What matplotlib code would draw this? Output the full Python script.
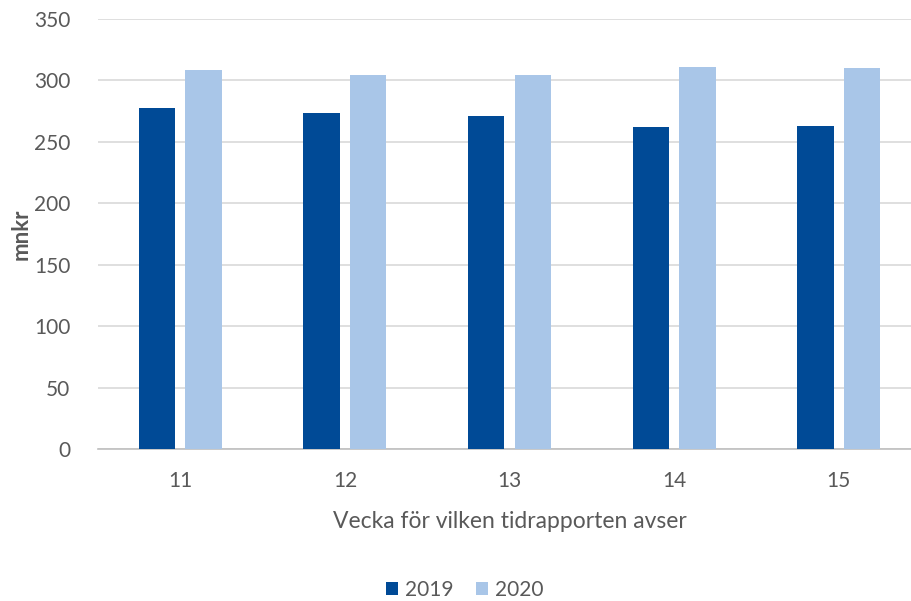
import matplotlib
matplotlib.use("Agg")
import matplotlib.pyplot as plt
import numpy as np

weeks = ["11", "12", "13", "14", "15"]
v2019 = [277.8, 273.4, 271.3, 262.0, 263.2]
v2020 = [308.7, 304.6, 304.6, 310.8, 309.8]

plt.rcParams['font.family'] = ['Lato', 'DejaVu Sans']
grey = '#595959'

fig = plt.figure(figsize=(9.12, 6.01), dpi=100)
ax = fig.add_axes([98 / 912, 152 / 601, 823 / 912, 430 / 601])

x = np.arange(len(weeks))
w = 0.222
gap = 0.061
ax.bar(x - (w + gap) / 2, v2019, w, color='#004A96', label='2019', zorder=3)
ax.bar(x + (w + gap) / 2, v2020, w, color='#A9C6E8', label='2020', zorder=3)

ax.set_xlim(-0.5, len(weeks) - 0.5)
ax.set_ylim(0, 350)
ax.set_yticks(range(0, 351, 50))
ax.set_xticks(x)
ax.set_xticklabels(weeks)
ax.yaxis.grid(True, color='#D9D9D9', linewidth=1.2, zorder=0)
ax.set_axisbelow(True)
for s in ['top', 'right', 'left']:
    ax.spines[s].set_visible(False)
ax.spines['bottom'].set_color('#BFBFBF')
ax.spines['bottom'].set_linewidth(1.2)
ax.tick_params(axis='both', length=0, labelsize=15, colors=grey)
ax.tick_params(axis='x', pad=16)
ax.tick_params(axis='y', pad=20)
ax.set_ylabel('mnkr', fontsize=16, color=grey, fontweight='bold')
ax.yaxis.set_label_coords(-66 / 823, 0.5)
ax.set_xlabel('Vecka för vilken tidrapporten avser', fontsize=16.5, color=grey, labelpad=14)

leg = fig.legend(loc='center', bbox_to_anchor=(465 / 912, 11 / 601), ncol=2, frameon=False,
                 fontsize=15, handlelength=0.55, handleheight=0.55, columnspacing=1.1,
                 handletextpad=0.35, labelcolor=grey)

fig.savefig('out.png', dpi=100)
